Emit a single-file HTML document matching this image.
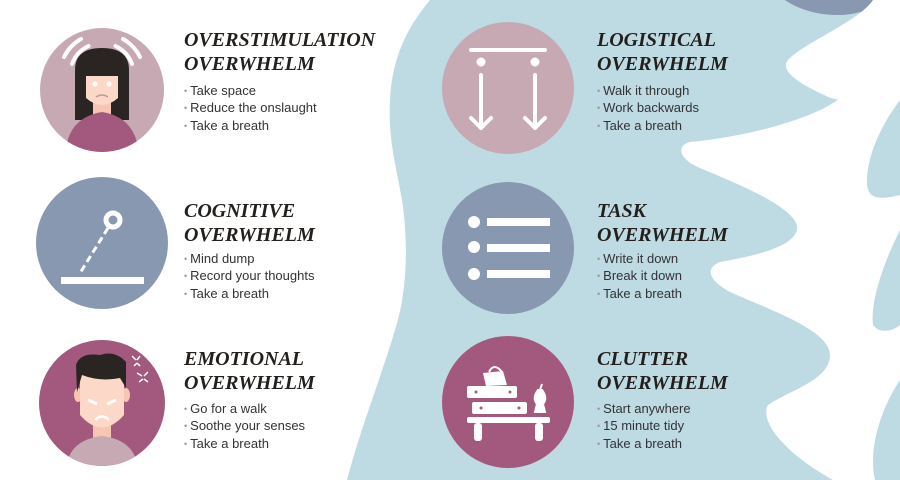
<!DOCTYPE html>
<html><head><meta charset="utf-8"><style>
body{margin:0;width:900px;height:480px;overflow:hidden;background:#fff;position:relative;font-family:"Liberation Sans",sans-serif}
svg{position:absolute;left:0;top:0}
.t{position:absolute;font-family:"Liberation Serif",serif;font-weight:bold;font-style:italic;font-size:20px;line-height:24px;color:#231f1c;letter-spacing:0}
.b{position:absolute;font-size:13px;line-height:16.3px;color:#333}
.b span{color:#999;font-size:9px;margin-right:3px;position:relative;top:-1px}
</style></head><body>
<svg width="900" height="480" viewBox="0 0 900 480">
<path d="M430,0 C405,30 392,60 390,100 C388,140 396,165 402,200 C408,240 408,290 395,330 C380,380 360,430 347,480 L900,480 L900,0 Z" fill="#bedae3"/>
<path d="M785,0 C810,18 860,22 882,0 Z" fill="#8898b0"/>
<path d="M873,0 C860,20 810,40 790,58 C778,68 795,80 810,88 C825,96 838,102 840,98 C820,115 760,135 690,142 C675,146 680,160 700,168 C740,185 790,205 797,225 C800,245 760,255 720,262 C705,268 708,280 730,292 C770,310 830,330 830,355 C830,380 790,390 768,405 C760,420 780,450 833,480 L900,480 L900,0 Z" fill="#fff"/>
<path d="M900,100 C885,120 868,150 867,180 C866,200 880,200 900,195 Z" fill="#bedae3"/>
<path d="M900,230 C885,260 870,300 873,325 C880,335 895,330 900,325 Z" fill="#bedae3"/>
<path d="M900,380 C880,410 868,450 875,480 L900,480 Z" fill="#bedae3"/>
<circle cx="102" cy="90" r="62" fill="#c7a9b4"/>
<circle cx="102" cy="243" r="66" fill="#8898b0"/>
<circle cx="102" cy="403" r="63" fill="#a3587e"/>
<circle cx="508" cy="88" r="66" fill="#c7a9b4"/>
<circle cx="508" cy="248" r="66" fill="#8898b0"/>
<circle cx="508" cy="402" r="66" fill="#a3587e"/>
<g>
<clipPath id="c1"><circle cx="102" cy="90" r="62"/></clipPath>
<g clip-path="url(#c1)">
<path d="M75,120 L75,70 Q75,48 102,48 Q129,48 129,70 L129,120 Z" fill="#2a2523"/>
<rect x="93" y="100" width="18" height="16" fill="#f6c6b3"/>
<path d="M65,160 Q65,118 102,112 Q139,118 139,160 Z" fill="#a3587e"/>
<path d="M86,70 L118,70 L118,98 Q102,112 86,98 Z" fill="#fbd8c8"/>
<path d="M84,66 Q100,56 120,66 L120,76 L84,76 Z" fill="#2a2523"/>
<circle cx="95" cy="84" r="2.5" fill="#fff"/><circle cx="109" cy="84" r="2.5" fill="#fff"/>
<path d="M96,97 Q102,93 108,97" stroke="#c98" stroke-width="1.5" fill="none"/>
</g>
<path d="M72,64 A32,32 0 0 1 88.5,46 M64,57 A42,42 0 0 1 81,39 M132,64 A32,32 0 0 0 115.5,46 M140,57 A42,42 0 0 0 123,39" stroke="#fff" stroke-width="4" fill="none" stroke-linecap="round"/>
</g>
<rect x="61" y="277" width="83" height="7" fill="#fff"/>
<circle cx="113" cy="220" r="7" fill="none" stroke="#fff" stroke-width="5"/>
<path d="M108,228 L80,273" stroke="#fff" stroke-width="3" stroke-dasharray="7,4"/>
<clipPath id="c3"><circle cx="102" cy="403" r="63"/></clipPath>
<g clip-path="url(#c3)">
<rect x="93" y="425" width="18" height="16" fill="#f6c6b3"/>
<path d="M66,470 Q68,440 102,436 Q136,440 138,470 Z" fill="#c7a9b4"/>
<ellipse cx="78" cy="395" rx="4" ry="7" fill="#f6c6b3"/><ellipse cx="126" cy="395" rx="4" ry="7" fill="#f6c6b3"/>
<path d="M80,375 L124,375 L124,415 Q102,440 80,415 Z" fill="#fbd8c8"/>
<path d="M77,392 L76,365 Q80,352 100,355 Q115,350 126,362 L126,388 L120,378 Q100,382 82,375 Z" fill="#2a2523"/>
<path d="M88,400 L97,404 M116,400 L107,404" stroke="#fff" stroke-width="3"/>
<path d="M95,420 Q102,413 109,420" stroke="#fff" stroke-width="2.5" fill="none"/>
</g>
<path d="M132,356 l4,4 M140,356 l-3,4 M134,366 l3,-3 M140,366 l-3,-3 M137,373 l5,3 M148,372 l-4,4 M139,382 l4,-3 M148,382 l-4,-3" stroke="#fff" stroke-width="1.5"/>
<rect x="469" y="48" width="78" height="4" fill="#fff" rx="2"/>
<circle cx="481" cy="62" r="4.5" fill="#fff"/><circle cx="535" cy="62" r="4.5" fill="#fff"/>
<path d="M481,75 L481,128 M471,118 L481,128 L491,118 M535,75 L535,128 M525,118 L535,128 L545,118" stroke="#fff" stroke-width="4" fill="none" stroke-linecap="round" stroke-linejoin="round"/>
<circle cx="474" cy="222" r="6" fill="#fff"/><circle cx="474" cy="247" r="6" fill="#fff"/><circle cx="474" cy="274" r="6" fill="#fff"/>
<rect x="487" y="218" width="63" height="8" fill="#fff"/><rect x="487" y="244" width="63" height="8" fill="#fff"/><rect x="487" y="270" width="63" height="8" fill="#fff"/>
<rect x="467" y="417" width="83" height="6" rx="2" fill="#fff"/>
<rect x="474" y="423" width="8" height="18" rx="3" fill="#fff"/><rect x="535" y="423" width="8" height="18" rx="3" fill="#fff"/>
<rect x="472" y="402" width="55" height="12" rx="2" fill="#fff"/>
<rect x="467" y="386" width="50" height="12" rx="2" fill="#fff"/>
<path d="M483,373 L503,371 L507,385 L486,386 Z" fill="#fff"/>
<path d="M489,372 Q494,362 502,372" stroke="#fff" stroke-width="2" fill="none"/>
<path d="M538,390 Q532,398 537,404 L535,412 L545,412 L543,404 Q548,398 542,390 Z M540,390 L542,384" fill="#fff" stroke="#fff" stroke-width="2"/>
<circle cx="476" cy="392" r="1.5" fill="#a3587e"/><circle cx="510" cy="392" r="1.5" fill="#a3587e"/>
<circle cx="481" cy="408" r="1.5" fill="#a3587e"/><circle cx="519" cy="408" r="1.5" fill="#a3587e"/>
</svg>

<div class="t" style="left:184px;top:28px">OVERSTIMULATION<br>OVERWHELM</div>
<div class="b" style="left:184px;top:83px"><span>•</span>Take space<br><span>•</span>Reduce the onslaught<br><span>•</span>Take a breath</div>
<div class="t" style="left:184px;top:199px">COGNITIVE<br>OVERWHELM</div>
<div class="b" style="left:184px;top:251px"><span>•</span>Mind dump<br><span>•</span>Record your thoughts<br><span>•</span>Take a breath</div>
<div class="t" style="left:184px;top:347px">EMOTIONAL<br>OVERWHELM</div>
<div class="b" style="left:184px;top:401px"><span>•</span>Go for a walk<br><span>•</span>Soothe your senses<br><span>•</span>Take a breath</div>

<div class="t" style="left:597px;top:28px">LOGISTICAL<br>OVERWHELM</div>
<div class="b" style="left:597px;top:83px"><span>•</span>Walk it through<br><span>•</span>Work backwards<br><span>•</span>Take a breath</div>
<div class="t" style="left:597px;top:199px">TASK<br>OVERWHELM</div>
<div class="b" style="left:597px;top:251px"><span>•</span>Write it down<br><span>•</span>Break it down<br><span>•</span>Take a breath</div>
<div class="t" style="left:597px;top:347px">CLUTTER<br>OVERWHELM</div>
<div class="b" style="left:597px;top:401px"><span>•</span>Start anywhere<br><span>•</span>15 minute tidy<br><span>•</span>Take a breath</div>
</body></html>
